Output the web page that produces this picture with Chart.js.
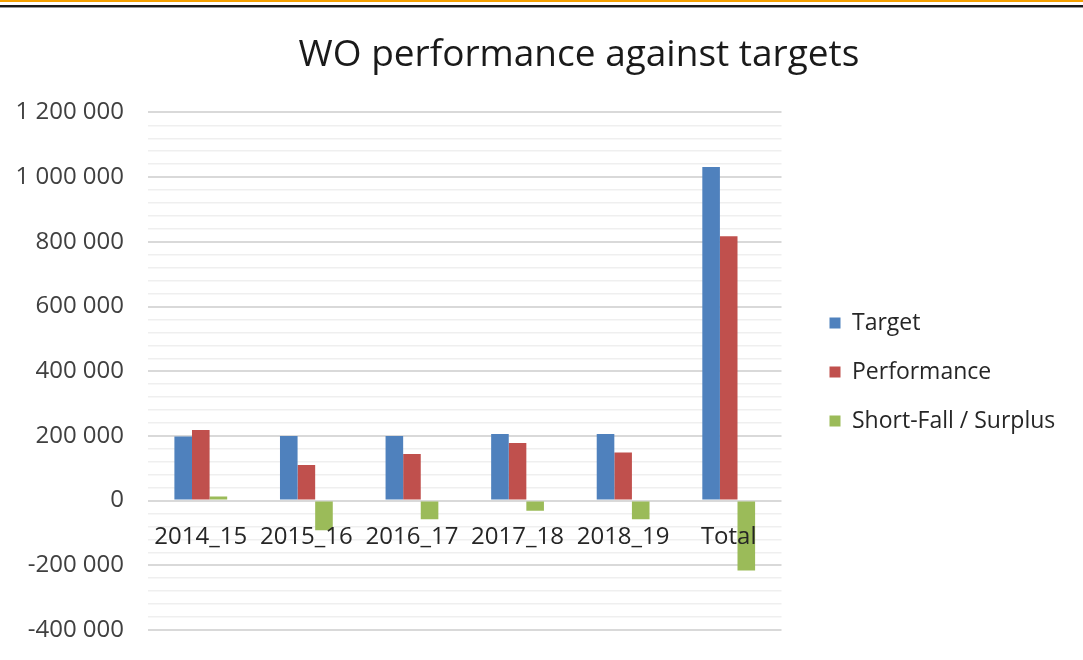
<!DOCTYPE html>
<html>
<head>
<meta charset="utf-8">
<script src="https://cdn.jsdelivr.net/npm/chart.js@4"></script>
<style>
  html, body { margin: 0; padding: 0; background: #fff; }
  #wrap { position: relative; width: 1083px; height: 660px; }
  #topOrange { position: absolute; left: 0; top: 0; width: 1083px; height: 2px; background: #f5a000; }
  #topDark { position: absolute; left: 0; top: 5px; width: 1083px; height: 2px; background: #1a1a1a; border-bottom: 1px solid #999; }
  canvas { position: absolute; left: 0; top: 0; }
</style>
</head>
<body>
<div id="wrap">
  <canvas id="chart" width="1083" height="660"></canvas>
  <div id="topOrange"></div>
  <div id="topDark"></div>
</div>
<script>
const categories = ["2014_15", "2015_16", "2016_17", "2017_18", "2018_19", "Total"];
const target = [198000, 200000, 200000, 206000, 206000, 1031000];
const performance = [218000, 110000, 144000, 178000, 149000, 817000];
const shortFall = [13000, -92000, -58000, -31000, -58000, -216000];

const yMin = -400000;
const yMax = 1200000;
const minorStep = 40000;
const majorStep = 200000;

const fmt = (v) => {
  const s = String(Math.abs(v)).replace(/\B(?=(\d{3})+(?!\d))/g, " ");
  return (v < 0 ? "-" : "") + s;
};

const fontFamily = "'Open Sans', sans-serif";

// nudge title and legend to where Excel put them
const nudge = {
  id: "nudge",
  afterLayout(chart) {
    const t = chart.titleBlock;
    t.left += 53;
    t.right += 53;
    const l = chart.legend;
    l.left += 22;
    l.right += 22;
    l.top += 57;
    l.bottom += 57;
  },
};

new Chart(document.getElementById("chart").getContext("2d"), {
  type: "bar",
  data: {
    labels: categories,
    datasets: [
      { label: "Target", data: target, backgroundColor: "#4f81bd" },
      { label: "Performance", data: performance, backgroundColor: "#c0504d" },
      { label: "Short-Fall / Surplus", data: shortFall, backgroundColor: "#9bbb59" },
    ],
  },
  plugins: [nudge],
  options: {
    responsive: false,
    animation: false,
    datasets: {
      bar: { categoryPercentage: 0.5, barPercentage: 1.0 },
    },
    layout: { padding: { left: 15, right: 46, top: 0, bottom: 30 } },
    plugins: {
      title: {
        display: true,
        text: "WO performance against targets",
        color: "#1a1a1a",
        font: { family: fontFamily, size: 37, weight: "normal" },
        padding: { top: 33, bottom: 35 },
      },
      legend: {
        position: "right",
        labels: {
          color: "#262626",
          font: { family: fontFamily, size: 23 },
          boxWidth: 11,
          boxHeight: 11,
          padding: 26,
        },
      },
      tooltip: { enabled: false },
    },
    scales: {
      x: {
        position: { y: 0 },
        grid: { display: false },
        border: { display: false },
        ticks: {
          z: 1,
          color: "#262626",
          font: { family: fontFamily, size: 24 },
          padding: 14,
          maxRotation: 0,
        },
      },
      y: {
        min: yMin,
        max: yMax,
        border: { display: false },
        grid: {
          drawTicks: false,
          color: (ctx) => (ctx.tick && ctx.tick.value % majorStep === 0 ? "#d9d9d9" : "#efefef"),
          lineWidth: (ctx) => (ctx.tick && ctx.tick.value % majorStep === 0 ? 2 : 1.5),
        },
        ticks: {
          stepSize: minorStep,
          autoSkip: false,
          color: "#404040",
          font: { family: fontFamily, size: 24 },
          padding: 24,
          callback: (v) => (v % majorStep === 0 ? fmt(v) : ""),
        },
        afterFit: (scale) => {
          scale.width = 133;
          scale.paddingTop = 0;
          scale.paddingBottom = 0;
        },
      },
    },
  },
});
</script>
</body>
</html>
